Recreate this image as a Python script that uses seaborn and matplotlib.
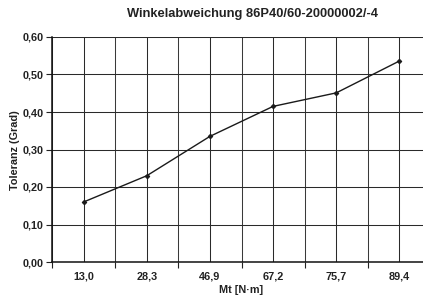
import matplotlib
matplotlib.use("Agg")
import matplotlib.pyplot as plt
import seaborn as sns
import numpy as np
from matplotlib.ticker import FixedLocator, MultipleLocator, FuncFormatter

categories = ["13,0", "28,3", "46,9", "67,2", "75,7", "89,4"]
values = [0.16, 0.23, 0.335, 0.415, 0.451, 0.536]
title = "Winkelabweichung 86P40/60-20000002/-4"
xlabel = "Mt [N·m]"
ylabel = "Toleranz (Grad)"

sns.set_style("white")
plt.rcParams['font.family'] = ['Liberation Sans', 'DejaVu Sans']
plt.rcParams['font.weight'] = 'bold'

W, H = 423, 300
fig = plt.figure(figsize=(W/100, H/100), dpi=100)
# axes from x=52px to 431px (extends past right edge), y 37..262
ax = fig.add_axes([52/W, 1-262/H, (431-52)/W, (262-37)/H])

sns.pointplot(x=categories, y=values, ax=ax, color="#1a1a1a", markers="D",
              markersize=2.3, linewidth=1.0, errorbar=None)

ax.set_xlim(-0.5, 5.5)
ax.set_ylim(0, 0.6)
ax.yaxis.set_major_locator(MultipleLocator(0.1))
ax.yaxis.set_major_formatter(FuncFormatter(lambda v, p: f"{v:.2f}".replace(".", ",")))
ax.xaxis.set_minor_locator(FixedLocator(np.arange(-0.5, 6, 1)))
ax.grid(True, which="major", color="#2a2a2a", linewidth=0.75)
ax.grid(True, which="minor", axis="x", color="#3a3a3a", linewidth=0.75)
ax.tick_params(axis="x", which="major", length=0, pad=7, labelsize=7.8)
ax.tick_params(axis="x", which="minor", length=4, width=0.8, direction="out", color="#222222", bottom=True)
ax.tick_params(axis="y", which="major", length=4, width=0.8, direction="out", color="#222222", left=True, labelsize=7.8, pad=2)
for lab in ax.get_xticklabels() + ax.get_yticklabels():
    lab.set_fontweight("bold")
    lab.set_color("#222222")

for s in ["top", "right"]:
    ax.spines[s].set_visible(False)
for s in ["left", "bottom"]:
    ax.spines[s].set_color("#111111")
    ax.spines[s].set_linewidth(1.1)

ax.set_xlabel("")
ax.set_ylabel("")
fig.text(241.5/W, 1-290/H, xlabel, ha="center", va="center", fontsize=7.8, fontweight="bold", color="#222222")
fig.text(15/W, 1-150/H, ylabel, ha="center", va="center", rotation=90, fontsize=7.8, fontweight="bold", color="#222222")
fig.text(252/W, 1-14/H, title, ha="center", va="center", fontsize=9.3, fontweight="bold", color="#222222")

fig.savefig("out.png", dpi=100)
